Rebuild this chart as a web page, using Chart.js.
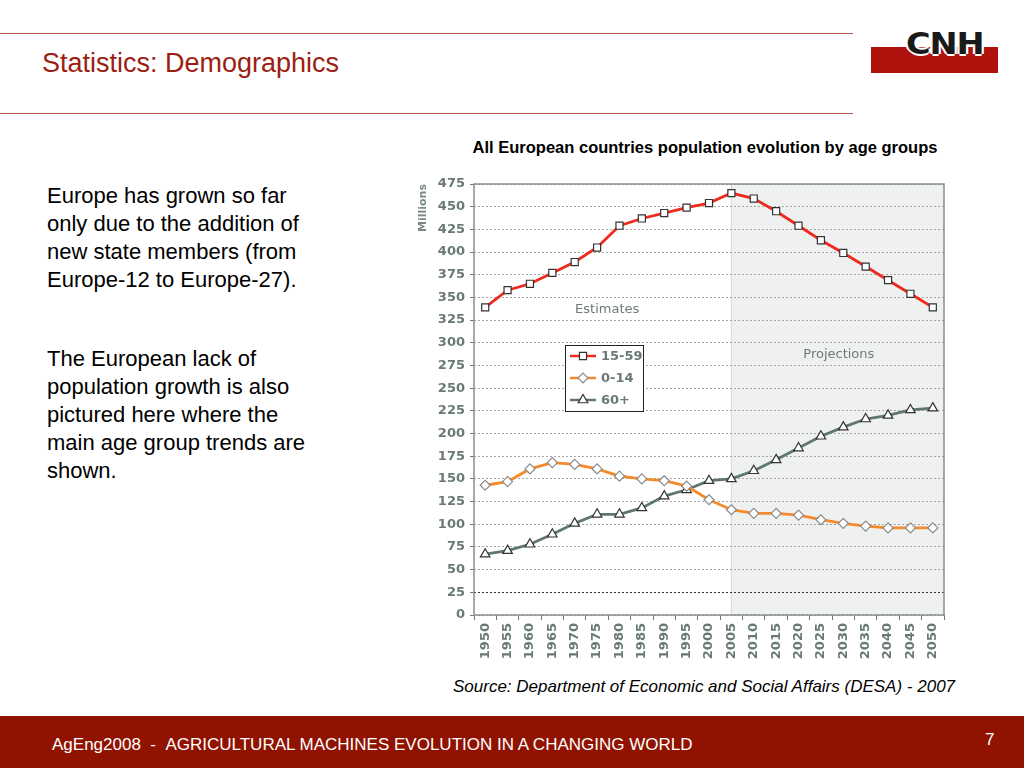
<!DOCTYPE html>
<html>
<head>
<meta charset="utf-8">
<script src="https://cdn.jsdelivr.net/npm/chart.js@4.4.0/dist/chart.umd.min.js"></script>
<style>
  body { margin: 0; width: 1024px; height: 768px; position: relative; overflow: hidden; background: #fff; font-family: "Liberation Sans", Arial, sans-serif; }
  .rule { position: absolute; left: 0; width: 853px; height: 1px; background: #b8594a; }
  #title { position: absolute; left: 42px; top: 48px; font-size: 27px; color: #9c1e12; }
  #logoBar { position: absolute; left: 871px; top: 47px; width: 127px; height: 26px; background: #b0120e; }
  #logoText { position: absolute; left: 906px; top: 26px; font-family: "DejaVu Sans", sans-serif; font-weight: bold; font-size: 30px; letter-spacing: -1px; color: #1a1a1a; transform: scaleX(1.12); transform-origin: left; text-shadow: 2px 0 #fff, -2px 0 #fff, 0 2px #fff, 0 -2px #fff; }
  #text { position: absolute; left: 47px; top: 182px; width: 268px; font-size: 22px; line-height: 28px; color: #000; }
  #text p { margin: 0; }
  #chartTitle { position: absolute; left: 430px; top: 138px; width: 550px; text-align: center; font-weight: bold; font-size: 16.5px; color: #000; }
  #wrap { position: absolute; left: 415px; top: 170px; width: 540px; height: 500px; }
  #source { position: absolute; left: 453px; top: 677px; font-style: italic; font-size: 17px; color: #000; }
  #footer { position: absolute; left: 0; top: 716px; width: 1024px; height: 52px; background: #901200; color: #fff; }
  #footText { position: absolute; left: 52px; top: 19px; font-size: 17px; }
  #pageNo { position: absolute; left: 985px; top: 14px; font-size: 17px; }
</style>
</head>
<body>
<div class="rule" style="top:33px"></div>
<div id="title">Statistics: Demographics</div>
<div class="rule" style="top:113px"></div>
<div id="logoBar"></div>
<div id="logoText">CNH</div>

<div id="text">
  <p>Europe has grown so far only due to the addition of new state members (from Europe-12 to Europe-27).</p>
  <p style="margin-top:51px">The European lack of population growth is also pictured here where the main age group trends are shown.</p>
</div>

<div id="chartTitle">All European countries population evolution by age groups</div>
<div id="wrap"><canvas id="myChart" width="540" height="500"></canvas></div>
<div id="source">Source: Department of Economic and Social Affairs (DESA) - 2007</div>

<div id="footer">
  <div id="footText">AgEng2008&nbsp; - &nbsp;AGRICULTURAL MACHINES EVOLUTION IN A CHANGING WORLD</div>
  <div id="pageNo">7</div>
</div>

<script>
'use strict';
const years = ['1950','1955','1960','1965','1970','1975','1980','1985','1990','1995','2000',
  '2005','2010','2015','2020','2025','2030','2035','2040','2045','2050'];
const age1559 = [339,358,365,377,389,405,429,437,443,449,454,465,459,445,429,413,399,384,369,354,339];
const age014 = [143,147,161,168,166,161,153,150,148,142,127,116,112,112,110,105,101,98,96,96,96];
const age60 = [67,71,78,89,101,111,111,118,131,138,148,150,159,171,184,197,207,216,220,226,228];
const seriesNames = ['15-59','0-14','60+'];
const yTicksMax = 475;
const yStep = 25;
const projectionStart = '2005';

const tickGray = '#687976';
const tickFont = { family: 'DejaVu Sans', weight: 'bold', size: 13 };

// shaded projections area + plot frame
const backdrop = {
  id: 'backdrop',
  beforeDraw(chart) {
    let ctx = chart.ctx;
    let a = chart.chartArea;
    let x0 = chart.scales.x.getPixelForValue(years.indexOf(projectionStart));
    ctx.save();
    ctx.fillStyle = '#eef1f0';
    ctx.fillRect(x0, a.top, a.right - x0, a.bottom - a.top);
    ctx.strokeStyle = '#cfd6d4';
    ctx.lineWidth = 1;
    ctx.beginPath();
    ctx.moveTo(x0, a.top);
    ctx.lineTo(x0, a.bottom);
    ctx.stroke();
    ctx.restore();
  },
  afterDraw(chart) {
    let ctx = chart.ctx;
    let a = chart.chartArea;
    let x = chart.scales.x;
    let y = chart.scales.y;
    ctx.save();
    ctx.strokeStyle = '#8a8f8e';
    ctx.lineWidth = 1.5;
    ctx.strokeRect(a.left, a.top, a.right - a.left, a.bottom - a.top);

    // labels
    ctx.fillStyle = '#6d7c79';
    ctx.font = '13px "DejaVu Sans"';
    ctx.textAlign = 'center';
    ctx.textBaseline = 'middle';
    ctx.fillText('Estimates', x.getPixelForValue(5.45), y.getPixelForValue(337));
    ctx.fillText('Projections', x.getPixelForValue(15.8), y.getPixelForValue(287));

    // legend box
    let lx = a.left + 91;
    let ly = a.top + 161;
    ctx.fillStyle = '#fff';
    ctx.fillRect(lx, ly, 78, 66);
    ctx.strokeStyle = '#222';
    ctx.lineWidth = 1;
    ctx.strokeRect(lx + 0.5, ly + 0.5, 78, 66);
    ctx.textAlign = 'left';
    ctx.font = 'bold 13px "DejaVu Sans"';
    chart.data.datasets.forEach(function (ds, i) {
      let ry = ly + 11 + i * 22;
      ctx.strokeStyle = ds.borderColor;
      ctx.lineWidth = 2.5;
      ctx.beginPath();
      ctx.moveTo(lx + 5, ry);
      ctx.lineTo(lx + 31, ry);
      ctx.stroke();
      ctx.fillStyle = '#fff';
      ctx.strokeStyle = ds.pointBorderColor;
      ctx.lineWidth = 1.2;
      Chart.helpers.drawPoint(ctx, { pointStyle: ds.pointStyle, radius: ds.pointRadius, borderWidth: 1.2 }, lx + 18, ry);
      ctx.fillStyle = tickGray;
      ctx.fillText(seriesNames[i], lx + 36, ry + 1);
    });
    ctx.restore();
  }
};

function makeSet(label, data, color, style, edge, r) {
  return {
    label: label,
    data: data,
    borderColor: color,
    borderWidth: 2.8,
    pointStyle: style,
    pointRadius: r,
    pointBackgroundColor: '#fff',
    pointBorderColor: edge,
    pointBorderWidth: 1.2,
    tension: 0
  };
}

function chart() {
  let ctx = document.getElementById('myChart').getContext('2d');
  new Chart(ctx, {
    type: 'line',
    data: {
      labels: years,
      datasets: [
        makeSet(seriesNames[0], age1559, '#ee2b1d', 'rect', '#333', 5),
        makeSet(seriesNames[1], age014, '#f58a2c', 'rectRot', '#8a8a8a', 5),
        makeSet(seriesNames[2], age60, '#5f7672', 'triangle', '#333', 5.5)
      ]
    },
    options: {
      responsive: false,
      animation: false,
      layout: { padding: { top: 14, right: 11, left: 0, bottom: 0 } },
      plugins: { legend: { display: false }, tooltip: { enabled: false } },
      scales: {
        x: {
          offset: true,
          grid: { offset: true, drawOnChartArea: false, tickLength: 5, color: '#777' },
          border: { display: false },
          ticks: { color: tickGray, font: tickFont, minRotation: 90, maxRotation: 90, autoSkip: false, padding: 3 },
          afterFit(scale) { scale.height = 55; }
        },
        y: {
          min: 0,
          max: yTicksMax,
          grid: {
            color: function (c) { return c.tick.value === yStep ? '#333' : '#a5a5a5'; },
            tickColor: '#777',
            tickLength: 4,
            tickBorderDash: []
          },
          border: { display: false, dash: [2, 2] },
          ticks: { stepSize: yStep, color: tickGray, font: tickFont, padding: 5 },
          title: { display: true, text: 'Millions', align: 'end', color: '#7a8886',
            font: { family: 'DejaVu Sans', weight: 'bold', size: 11 }, padding: { top: 2, bottom: 0 } },
          afterFit(scale) { scale.width = 59; }
        }
      }
    },
    plugins: [backdrop]
  });
}

chart();
</script>
</body>
</html>
